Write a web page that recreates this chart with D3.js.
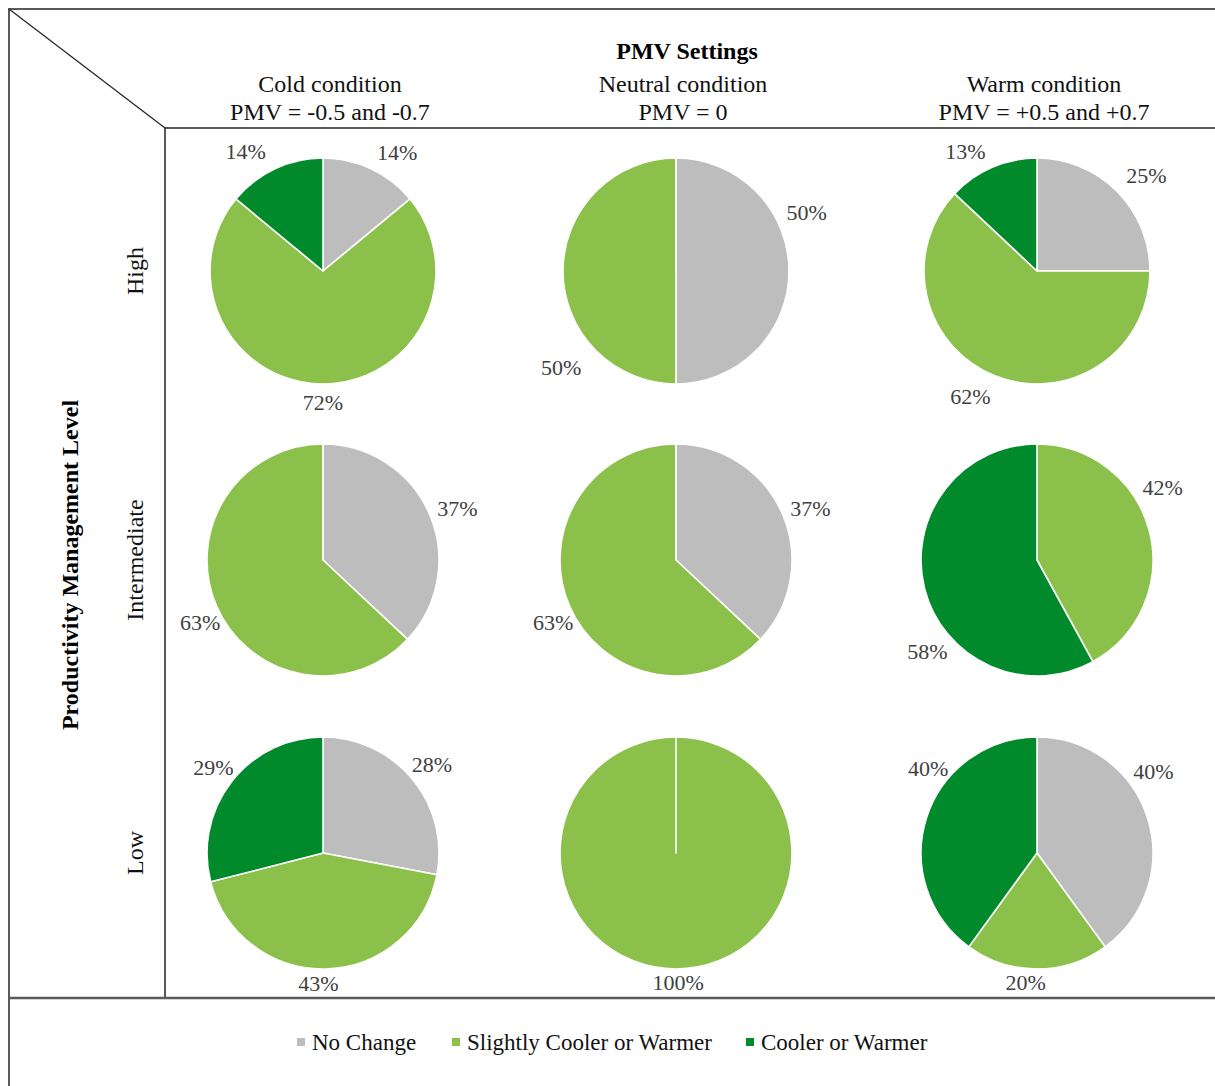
<!DOCTYPE html>
<html>
<head>
<meta charset="utf-8">
<script src="https://cdn.jsdelivr.net/npm/d3@7"></script>
<style>
  html, body { margin: 0; padding: 0; background: #fff; }
  svg { display: block; }
  text { font-family: "Liberation Serif", "Times New Roman", serif; }
</style>
</head>
<body>
<svg id="chart" width="1215" height="1086"></svg>
<script>
// Categories
const responses = ["No Change", "Slightly Cooler or Warmer", "Cooler or Warmer"];
const conditions = ["Cold condition", "Neutral condition", "Warm condition"];
const conditionPMV = ["PMV = -0.5 and -0.7", "PMV = 0", "PMV = +0.5 and +0.7"];
const levels = ["High", "Intermediate", "Low"];

// Share of responses (%) per management level, one array per condition,
// in the order of `responses`
const highValues = [[14, 72, 14], [50, 50, 0], [25, 62, 13]];
const intermediateValues = [[37, 63, 0], [37, 63, 0], [0, 42, 58]];
const lowValues = [[28, 43, 29], [0, 100, 0], [40, 20, 40]];
const valuesByLevel = [highValues, intermediateValues, lowValues];

// Label placement (angle in degrees clockwise from 12 o'clock, distance from centre)
const labelLayout = [
  [[[32, 140], [180, 131], [327, 142]], [[66, 143], [230, 150], null], [[49, 145], [208, 142], [329, 139]]],
  [[[69, 144], [243, 138], null], [[69, 144], [243, 138], null], [null, [60, 145], [230, 143]]],
  [[[51, 140], [182, 131], [308, 139]], [null, [179, 130], null], [[55, 142], [185, 130], [308, 138]]]
];

const colors = d3.scaleOrdinal(responses, ["#BDBDBD", "#8BC04B", "#008A2B"]);
const colX = d3.scaleOrdinal(conditions, [323, 676, 1037]);
const rowY = d3.scaleOrdinal(levels, [271, 560, 853]);
const rowR = d3.scaleOrdinal(levels, [113, 116, 116]);

const svg = d3.select("#chart");

// Frame lines
const frame = svg.append("g");
frame.append("line").attr("x1", 9).attr("y1", 9).attr("x2", 1215).attr("y2", 9)
  .attr("stroke", "#5a5a5a").attr("stroke-width", 2);
frame.append("line").attr("x1", 9).attr("y1", 8).attr("x2", 9).attr("y2", 1086)
  .attr("stroke", "#5a5a5a").attr("stroke-width", 2);
frame.append("line").attr("x1", 165).attr("y1", 128).attr("x2", 1215).attr("y2", 128)
  .attr("stroke", "#5a5a5a").attr("stroke-width", 2);
frame.append("line").attr("x1", 165).attr("y1", 128).attr("x2", 165).attr("y2", 998)
  .attr("stroke", "#222").attr("stroke-width", 1.5);
frame.append("line").attr("x1", 9).attr("y1", 998).attr("x2", 1215).attr("y2", 998)
  .attr("stroke", "#5a5a5a").attr("stroke-width", 2.5);
frame.append("line").attr("x1", 9).attr("y1", 9).attr("x2", 165).attr("y2", 128)
  .attr("stroke", "#222").attr("stroke-width", 1.2);

// Column headers
svg.append("text").attr("x", 687).attr("y", 59).attr("text-anchor", "middle")
  .attr("font-size", 24).attr("font-weight", "bold").attr("fill", "#000").text("PMV Settings");
conditions.forEach((c, i) => {
  const x = colX(c) + 7;
  svg.append("text").attr("x", x).attr("y", 92).attr("text-anchor", "middle")
    .attr("font-size", 24).attr("fill", "#111").text(c);
  svg.append("text").attr("x", x).attr("y", 120).attr("text-anchor", "middle")
    .attr("font-size", 24).attr("fill", "#111").text(conditionPMV[i]);
});

// Row headers
svg.append("text")
  .attr("transform", "translate(78,565) rotate(-90)")
  .attr("text-anchor", "middle").attr("font-size", 24).attr("font-weight", "bold")
  .attr("fill", "#000").text("Productivity Management Level");
levels.forEach(l => {
  svg.append("text")
    .attr("transform", `translate(143,${rowY(l)}) rotate(-90)`)
    .attr("text-anchor", "middle").attr("font-size", 24).attr("fill", "#111").text(l);
});

// Pies
const pie = d3.pie().sort(null).value(d => d.value);
const deg = Math.PI / 180;

levels.forEach((level, ri) => {
  conditions.forEach((cond, ci) => {
    const r = rowR(level);
    const arc = d3.arc().innerRadius(0).outerRadius(r);
    const data = responses.map((k, i) => ({ key: k, value: valuesByLevel[ri][ci][i] }));
    const g = svg.append("g").attr("transform", `translate(${colX(cond)},${rowY(level)})`);
    const arcs = pie(data);
    g.selectAll("path").data(arcs).join("path")
      .attr("d", arc)
      .attr("fill", d => colors(d.data.key))
      .attr("stroke", "#fff")
      .attr("stroke-width", 1.6)
      .attr("stroke-linejoin", "round");

    arcs.forEach((a, i) => {
      const place = labelLayout[ri][ci][i];
      if (!place || a.data.value === 0) return;
      const [ang, dist] = place;
      const p = d3.arc().innerRadius(dist).outerRadius(dist)
        .centroid({ startAngle: ang * deg, endAngle: ang * deg });
      g.append("text")
        .attr("x", p[0]).attr("y", p[1])
        .attr("text-anchor", "middle").attr("dominant-baseline", "central")
        .attr("font-size", 22).attr("fill", "#404040")
        .text(a.data.value + "%");
    });
  });
});

// Legend
const legendX = [297, 452, 746];
const legend = svg.append("g");
responses.forEach((k, i) => {
  legend.append("rect").attr("x", legendX[i]).attr("y", 1038).attr("width", 8).attr("height", 8)
    .attr("fill", colors(k));
  legend.append("text").attr("x", legendX[i] + 15).attr("y", 1050)
    .attr("font-size", 23).attr("fill", "#111").text(k);
});
</script>
</body>
</html>
